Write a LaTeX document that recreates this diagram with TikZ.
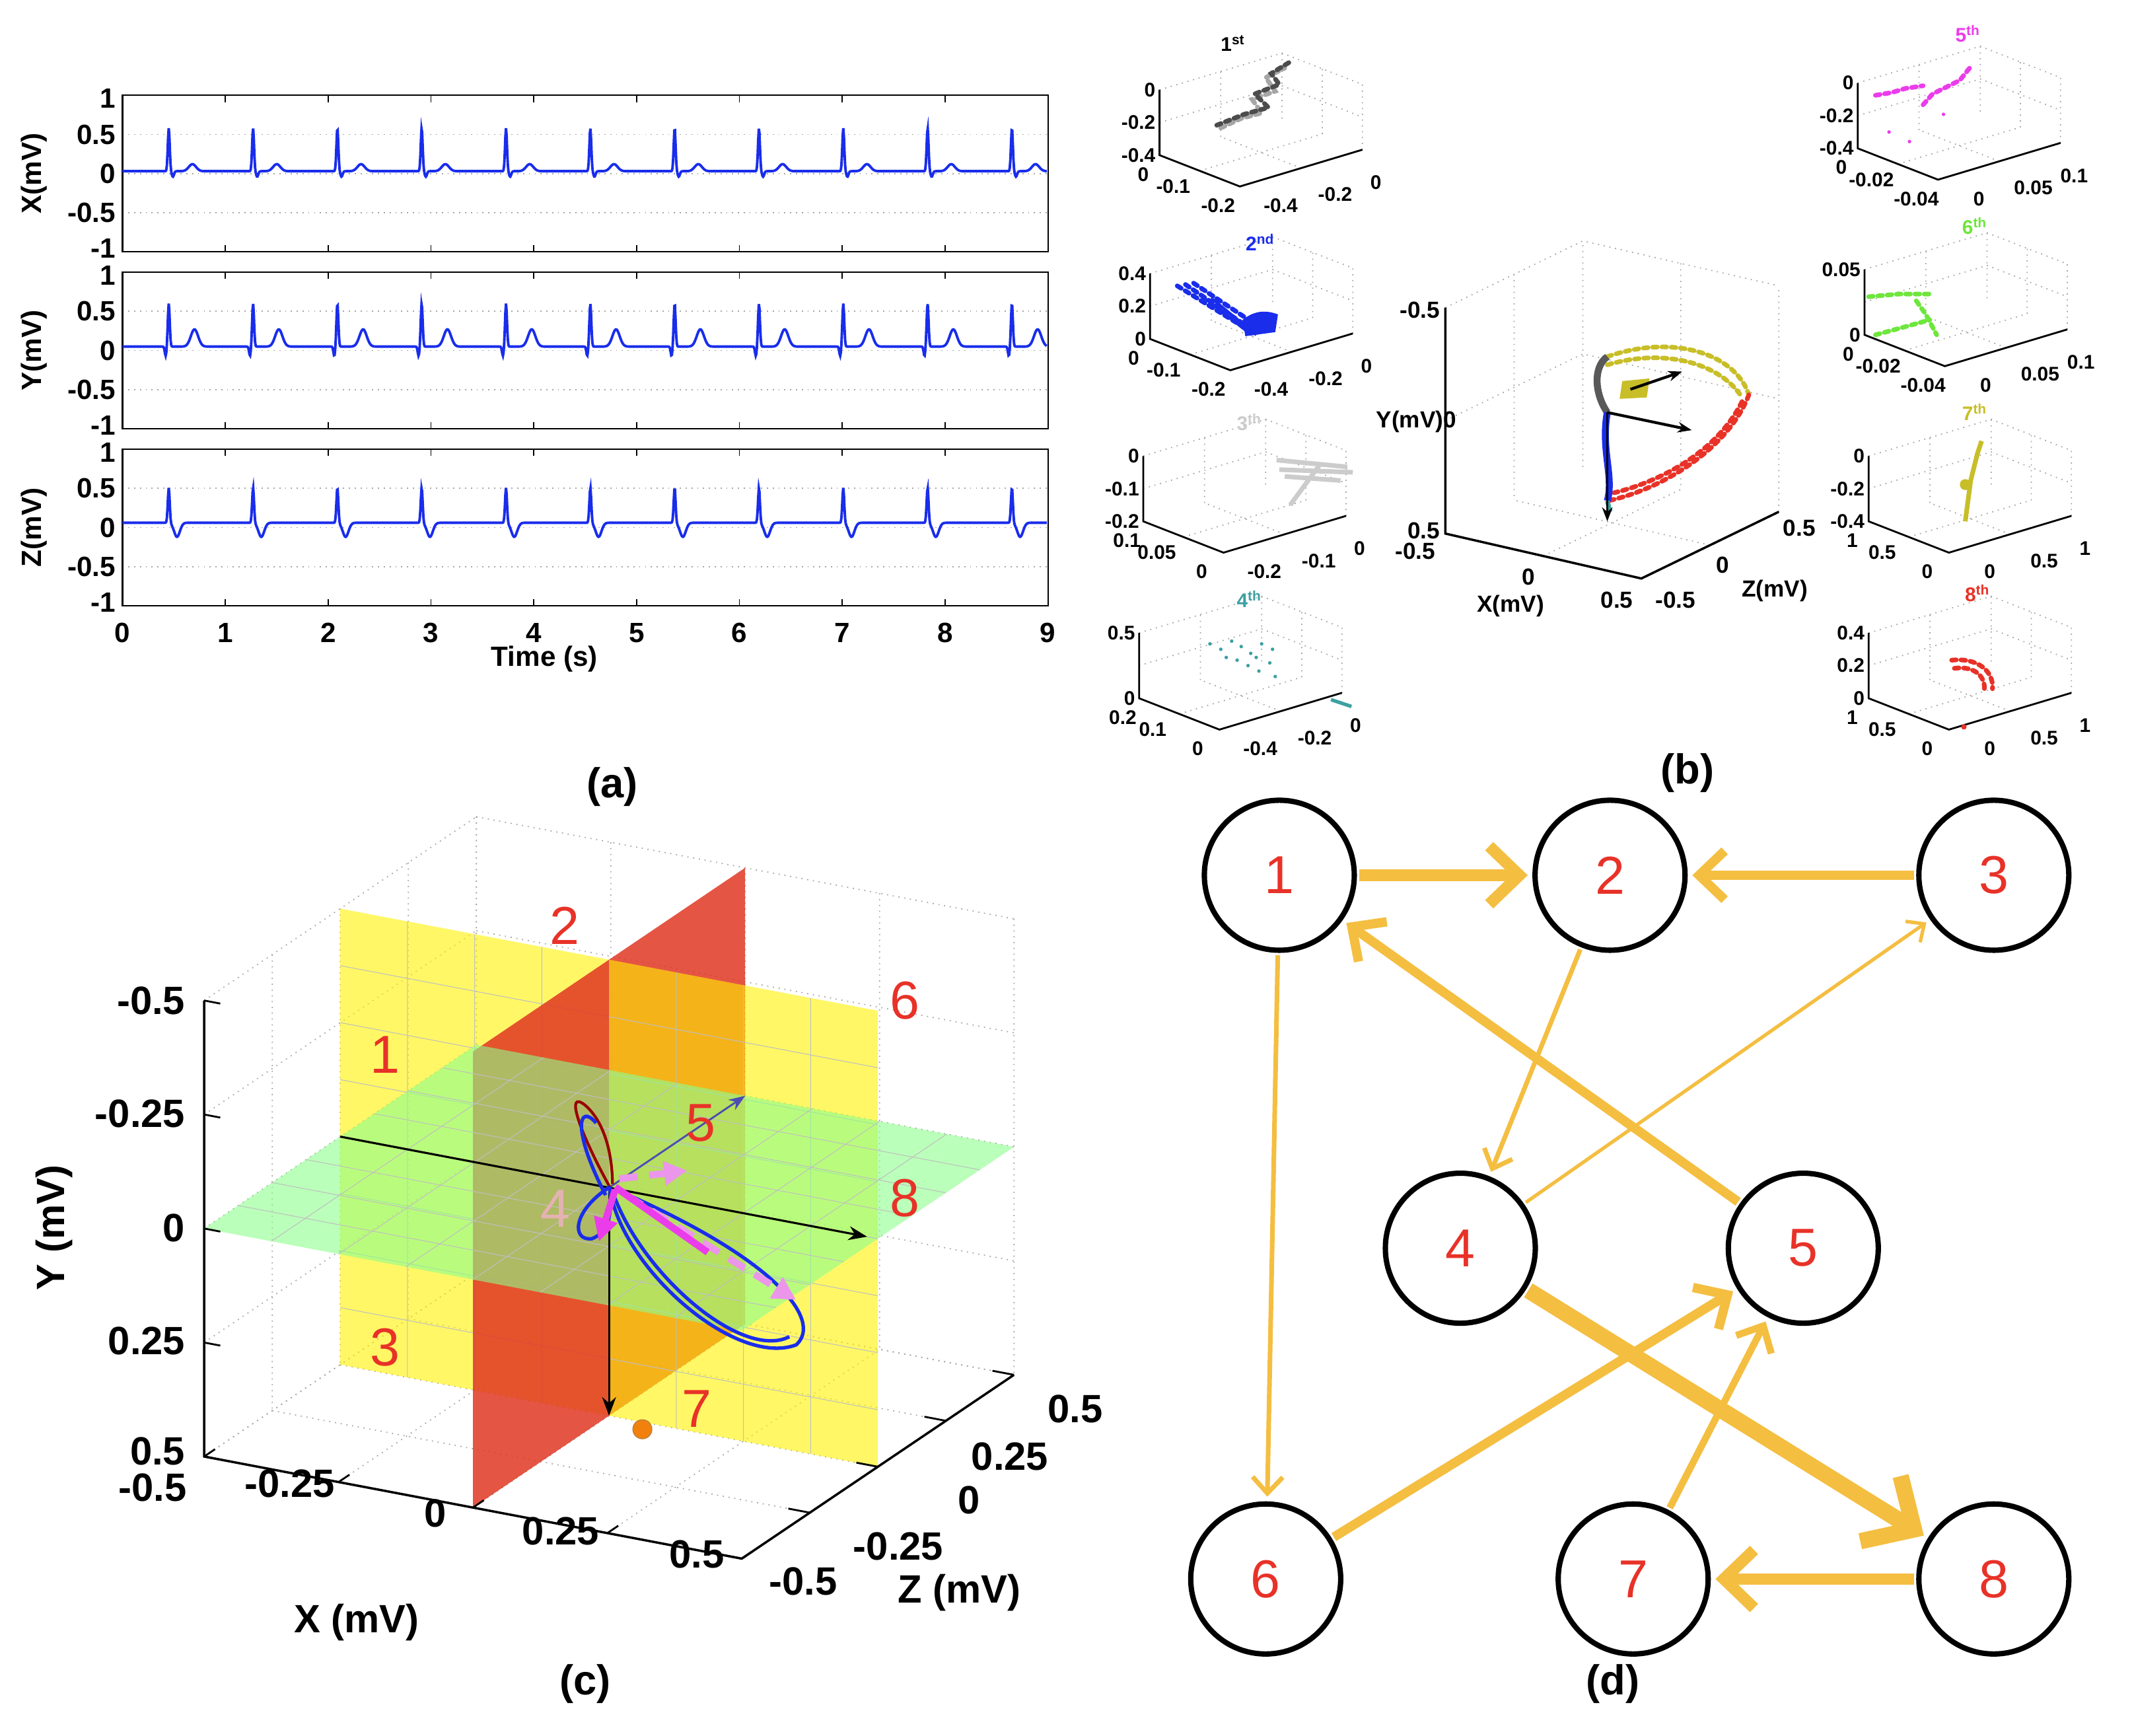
\documentclass[tikz,border=0pt]{standalone}
\usepackage{fontspec}
\setmainfont{Liberation Sans}
\usetikzlibrary{arrows.meta}
\definecolor{ecgblue}{RGB}{25,45,235}
\definecolor{edgeor}{RGB}{244,190,65}
\definecolor{numred}{RGB}{232,50,40}
\definecolor{olive2}{RGB}{200,190,40}
\definecolor{teal2}{RGB}{60,160,160}
\definecolor{mag2}{RGB}{235,60,235}
\definecolor{grn2}{RGB}{110,230,60}
\definecolor{pinkd}{RGB}{235,150,235}
\definecolor{plred}{RGB}{225,55,35}
\tikzset{
  tick/.style={font=\fontsize{12}{13}\selectfont\bfseries, inner sep=1pt},
  ctick/.style={font=\fontsize{17}{18}\selectfont\bfseries},
  mtick/.style={font=\fontsize{8.5}{9}\selectfont\bfseries, inner sep=1pt},
  panel/.style={font=\fontsize{18}{20}\selectfont\bfseries},
  grd/.style={gray!70, dotted, line width=0.5pt},
  st/.style={circle, draw=black, line width=2.3pt, minimum size=2.27cm, inner sep=0pt, text=numred, font=\fontsize{23}{24}\selectfont},
  ed/.style={draw=edgeor, line width=#1, -{Straight Barb[length=3pt 2,width=5pt 4]}, shorten <=1pt, shorten >=2pt},
  rn/.style={text=numred, font=\fontsize{23}{24}\selectfont},
  dat/.style={line width=2pt, dotted, line cap=round},
}
\newcommand\minibox[5]{%
 \begin{scope}[shift={(#1,#2)}]
  \draw[grd] (90,-27)--(90,-75) (149,-4)--(149,-52) (0,-48)--(90,-75)--(149,-52)
   (45,-13.5)--(45,-61.5) (119.5,-15.5)--(119.5,-63.5) (0,-24)--(90,-51)--(149,-28)
   (29.5,11.5)--(119.5,-15.5) (104,9.5)--(45,-13.5);
  \draw[black, line width=0.8pt] (0,-48)--(0,0)--(59,23)--(149,-4);
  \node[mtick, anchor=east] at (-1,-48) {#3};
  \node[mtick, anchor=east] at (-1,-24) {#4};
  \node[mtick, anchor=east] at (-1,0) {#5};
 \end{scope}}
\newcommand\minibot[8]{%
 \begin{scope}[shift={(#1,#2)}]
  \node[mtick] at (-12,14) {#3};
  \node[mtick] at (10,23) {#4};
  \node[mtick] at (43,37) {#5};
  \node[mtick] at (89,37) {#6};
  \node[mtick] at (129,29) {#7};
  \node[mtick] at (159,20) {#8};
 \end{scope}}
\begin{document}
\begin{tikzpicture}[x=0.0206cm,y=-0.0206cm,
  declare function={ph(\t)=mod(\t+8.2,0.82);
   rr(\t)=exp(-((ph(\t)-0.45)/0.013)^2);
   ecgx(\t)=0.03+0.55*rr(\t)-0.07*exp(-((ph(\t)-0.49)/0.015)^2)+0.09*exp(-((ph(\t)-0.68)/0.05)^2);
   ecgy(\t)=0.05+0.55*rr(\t)-0.12*exp(-((ph(\t)-0.42)/0.012)^2)+0.22*exp(-((ph(\t)-0.7)/0.05)^2);
   ecgz(\t)=0.06+0.45*rr(\t)-0.18*exp(-((ph(\t)-0.53)/0.04)^2);}]
\useasboundingbox (0,0) rectangle (1568,1275);
% ================= (a)
\foreach \c/\lab in {127.5/X,257.5/Y,387.5/Z}{
  \draw[grd] (90,\c-28.75)--(770,\c-28.75) (90,\c)--(770,\c) (90,\c+28.75)--(770,\c+28.75);
  \draw[line width=0.6pt] (90,\c-57.5) rectangle (770,\c+57.5);
  \foreach \s in {1,...,8}{\draw[line width=0.5pt] (90+75.55*\s,\c+57.5)--++(0,-5) (90+75.55*\s,\c-57.5)--++(0,5);}
  \node[tick,anchor=east] at (87,\c-55) {1};
  \node[tick,anchor=east] at (87,\c-28.75) {0.5};
  \node[tick,anchor=east] at (87,\c) {0};
  \node[tick,anchor=east] at (87,\c+28.75) {-0.5};
  \node[tick,anchor=east] at (87,\c+55) {-1};
  \node[tick,rotate=90] at (25,\c) {\lab(mV)};
}
\draw[ecgblue,line width=1.1pt] plot[domain=0:8.99,samples=1500] ({90+75.55*\x},{127.5-57.5*ecgx(\x)});
\draw[ecgblue,line width=1.1pt] plot[domain=0:8.99,samples=1500] ({90+75.55*\x},{257.5-57.5*ecgy(\x)});
\draw[ecgblue,line width=1.1pt] plot[domain=0:8.99,samples=1500] ({90+75.55*\x},{387.5-57.5*ecgz(\x)});
\foreach \s in {0,...,9}{\node[tick] at (90+75.55*\s,465) {\s};}
\node[tick] at (400,484) {Time (s)};
\node[panel] (la) at (450,578) {(a)};
% ================= (b) minis
\minibox{852}{114}{0}{-0.2}{-0.4}\minibot{852}{114}{0}{-0.1}{-0.2}{-0.4}{-0.2}{0}
\node[mtick] at (906,32) {1\textsuperscript{st}};
\begin{scope}[shift={(852,114)}]
\draw[gray!70,dat] (45,-20)--(60,-27)--(75,-31)--(68,-41)--(85,-47)--(78,-57)--(92,-64);
\draw[gray!60!black,dat] (42,-22)--(62,-30)--(80,-35)--(70,-45)--(88,-52)--(82,-60)--(95,-68);
\end{scope}
\minibox{845}{249}{0.4}{0.2}{0}\minibot{845}{249}{0}{-0.1}{-0.2}{-0.4}{-0.2}{0}
\node[mtick,text=ecgblue] at (926,178) {2\textsuperscript{nd}};
\begin{scope}[shift={(845,249)}]
\draw[ecgblue,dat] (20,-39)--(70,-8) (26,-40)--(76,-6) (32,-41)--(80,-9);
\draw[ecgblue,line width=1.2pt] (40,-30)--(72,-5) (45,-30)--(78,-3);
\fill[ecgblue] (68,-14) to[bend left] (94,-18)--(92,-5)--(70,-2)--cycle;
\end{scope}
\minibox{840}{383}{0}{-0.1}{-0.2}\minibot{840}{383}{0.1}{0.05}{0}{-0.2}{-0.1}{0}
\node[mtick,text=gray!40] at (918,310) {3\textsuperscript{th}};
\begin{scope}[shift={(840,383)}]
\draw[gray!40,line width=2pt] (98,-45)--(150,-40) (100,-38)--(154,-36) (104,-33)--(145,-30) (108,-12)--(130,-42);
\end{scope}
\minibox{837}{513}{0.5}{}{0}\minibot{837}{513}{0.2}{0.1}{0}{-0.4}{-0.2}{0}
\node[mtick,text=teal2] at (918,440) {4\textsuperscript{th}};
\begin{scope}[shift={(837,513)}]
\foreach \p in {(52,-40),(60,-36),(68,-42),(75,-38),(82,-33),(90,-40),(98,-36),(72,-28),(80,-24),(88,-20),(96,-26),(64,-30),(100,-16),(86,-30)}{\fill[teal2] \p circle (1.3);}
\draw[teal2,line width=1.5pt] (141,1)--(156,6);
\end{scope}
\minibox{1365}{109}{0}{-0.2}{-0.4}\minibot{1365}{109}{0}{-0.02}{-0.04}{0}{0.05}{0.1}
\node[mtick,text=mag2] at (1446,25) {5\textsuperscript{th}};
\begin{scope}[shift={(1365,109)}]
\draw[mag2,dat] (13,-39)--(25,-41)--(35,-44)--(48,-46);
\draw[mag2,dat] (48,-32)--(55,-40)--(65,-45)--(75,-50)--(83,-60);
\foreach \p in {(23,-12),(38,-5),(63,-25)}{\fill[mag2] \p circle (1.3);}
\end{scope}
\minibox{1370}{246}{0.05}{}{0}\minibot{1370}{246}{0}{-0.02}{-0.04}{0}{0.05}{0.1}
\node[mtick,text=grn2] at (1451,166) {6\textsuperscript{th}};
\begin{scope}[shift={(1370,246)}]
\draw[grn2,dat] (3,-28)--(25,-30)--(48,-30) (38,-25)--(45,-15)--(53,0) (8,0)--(30,-6)--(48,-11);
\end{scope}
\minibox{1373}{383}{0}{-0.2}{-0.4}\minibot{1373}{383}{1}{0.5}{0}{0}{0.5}{1}
\node[mtick,text=olive2] at (1451,303) {7\textsuperscript{th}};
\begin{scope}[shift={(1373,383)}]
\draw[olive2,line width=2pt] (71,0)--(75,-30)--(80,-50)--(83,-59);
\fill[olive2] (71,-27) circle (4);
\end{scope}
\minibox{1373}{513}{0.4}{0.2}{0}\minibot{1373}{513}{1}{0.5}{0}{0}{0.5}{1}
\node[mtick,text=numred] at (1453,436) {8\textsuperscript{th}};
\begin{scope}[shift={(1373,513)}]
\draw[numred,dat] (61,-28) .. controls (80,-30) and (92,-20) .. (91,-7);
\draw[numred,dat] (63,-22) .. controls (78,-24) and (86,-16) .. (85,-6);
\fill[numred] (70,21) circle (2);
\end{scope}
% ================= (b) main
\draw[grd] (1163,343)--(1163,177) (1307,376)--(1307,210) (1062,226)--(1163,177)--(1307,210)
  (1112.5,201.5)--(1112.5,367.5) (1235,193.5)--(1235,359.5) (1062,309)--(1163,260)--(1307,293)
  (1134,408.5)--(1235,359.5) (1256.5,400.5)--(1112.5,367.5);
\draw[line width=1pt] (1062,226)--(1062,392)--(1206,425)--(1307,376);
\tikzset{btk/.style={mtick,font=\fontsize{10}{11}\selectfont\bfseries}}
\node[btk,anchor=east] at (1060,228) {-0.5};
\node[btk,anchor=east] at (1072,310) {Y(mV)0};
\node[btk,anchor=east] at (1060,390) {0.5};
\node[btk] at (1040,405) {-0.5};
\node[btk] at (1123,424) {0};
\node[btk] at (1110,445) {X(mV)};
\node[btk] at (1188,441) {0.5};
\node[btk] at (1231,441) {-0.5};
\node[btk] at (1266,415) {0};
\node[btk] at (1322,388) {0.5};
\node[btk] at (1304,434) {Z(mV)};
\draw[olive2,dat] (1181,262) .. controls (1230,245) and (1275,260) .. (1285,290);
\draw[olive2,dat] (1181,268) .. controls (1225,255) and (1265,268) .. (1280,292);
\draw[numred,dat] (1285,290) .. controls (1270,330) and (1220,360) .. (1181,368);
\draw[numred,dat] (1280,295) .. controls (1260,335) and (1215,355) .. (1186,362);
\draw[gray!70!black,line width=3pt] (1181,262) .. controls (1170,270) and (1172,290) .. (1181,303);
\draw[ecgblue,line width=3pt] (1181,303) .. controls (1176,330) and (1186,350) .. (1181,368);
\draw[teal2,line width=2pt] (1181,368)--(1183,376);
\fill[olive2] (1192,280) -- (1212,278) -- (1210,292) -- (1190,293) -- cycle;
\coordinate (bc) at (1181,303);
\coordinate (b0) at (1198,286);
\coordinate (b1) at (1236,273);
\coordinate (b2) at (1243,316);
\coordinate (b3) at (1181,383);
\draw[line width=1.2pt,-{Stealth[length=6pt]}] (b0)--(b1);
\draw[line width=1.2pt,-{Stealth[length=6pt]}] (bc)--(b2);
\draw[line width=1pt,-{Stealth[length=6pt]}] (bc)--(b3);
\node[panel] (lb) at (1240,568) {(b)};
% ================= (c)
\begin{scope}[shift={(9.2185cm,-17.9735cm)}, x={(8.137cm,-1.545cm)}, y={(0cm,-6.901cm)}, z={(4.12cm,2.781cm)}]
 \foreach \v in {-0.5,-0.25,0,0.25,0.5}{
  \draw[grd] (\v,-0.5,0.5)--(\v,0.5,0.5) (-0.5,\v,0.5)--(0.5,\v,0.5);
  \draw[grd] (-0.5,-0.5,\v)--(-0.5,0.5,\v) (-0.5,\v,-0.5)--(-0.5,\v,0.5);
  \draw[grd] (\v,0.5,-0.5)--(\v,0.5,0.5) (-0.5,0.5,\v)--(0.5,0.5,\v);
 }
 \fill[plred,opacity=0.85] (0,-0.5,0)--(0,-0.5,0.5)--(0,0.5,0.5)--(0,0.5,0)--cycle;
 \fill[yellow,opacity=0.6] (-0.5,-0.5,0)--(0.5,-0.5,0)--(0.5,0.5,0)--(-0.5,0.5,0)--cycle;
 \foreach \v in {-0.375,-0.25,...,0.4}{\draw[gray!50,line width=0.3pt] (\v,-0.5,0)--(\v,0.5,0) (-0.5,\v,0)--(0.5,\v,0);}
 \fill[plred,opacity=0.85] (0,-0.5,-0.5)--(0,-0.5,0)--(0,0.5,0)--(0,0.5,-0.5)--cycle;
 \fill[green!45,opacity=0.6] (-0.5,0,-0.5)--(0.5,0,-0.5)--(0.5,0,0.5)--(-0.5,0,0.5)--cycle;
 \foreach \v in {-0.375,-0.25,...,0.4}{\draw[gray!50,line width=0.3pt] (\v,0,-0.5)--(\v,0,0.5) (-0.5,0,\v)--(0.5,0,\v);}
 \draw[line width=1pt] (-0.5,-0.5,-0.5)--(-0.5,0.5,-0.5)--(0.5,0.5,-0.5)--(0.5,0.5,0.5);
 \foreach \v in {-0.5,-0.25,0,0.25,0.5}{\draw[line width=0.8pt] (-0.5,\v,-0.5)--++(0.03,0,0) (\v,0.5,-0.5)--++(0,0,0.04) (0.5,0.5,\v)--++(-0.04,0,0);}
 \coordinate (co) at (0,0,0);
 \coordinate (cx0) at (-0.5,0,0);
 \coordinate (cx) at (0.48,0,0);
 \coordinate (cy) at (0,0.5,0);
 \coordinate (cz) at (0,0,0.5);
\end{scope}
\draw[line width=0.9pt] (cx0)--(co);
\draw[line width=0.9pt,-{Stealth[length=8pt]}] (co)--(cx);
\draw[line width=0.9pt,-{Stealth[length=8pt]}] (co)--(cy);
\draw[blue!40!gray,line width=0.8pt,-{Stealth[length=7pt]}] (co)--(cz);
\draw[red!60!black,line width=1.2pt] (448,872) .. controls (425,830) and (415,800) .. (430,812) .. controls (445,825) and (450,850) .. (450,870);
\draw[ecgblue,line width=1.5pt] (448,872) .. controls (455,930) and (540,1005) .. (585,988) .. controls (605,970) and (570,925) .. (455,875);
\draw[ecgblue,line width=1.5pt] (450,875) .. controls (470,935) and (545,1000) .. (580,982);
\draw[ecgblue,line width=1.5pt] (448,872) .. controls (420,890) and (420,912) .. (435,910) .. controls (448,905) and (450,890) .. (448,872);
\draw[ecgblue,line width=1.5pt] (445,878) .. controls (420,830) and (425,810) .. (438,825);
\draw[pinkd,line width=3pt,dash pattern=on 8pt off 5pt,-{Triangle[length=10pt,width=10pt]}] (455,866)--(505,860);
\draw[pinkd,line width=3pt,dash pattern=on 8pt off 5pt,-{Triangle[length=10pt,width=10pt]}] (460,878)--(585,955);
\draw[mag2,line width=3pt] (452,872)--(520,920);
\draw[mag2,line width=3pt,-{Triangle[length=10pt,width=10pt]}] (452,874)--(440,912);
\fill[orange!80!brown,draw=brown] (472,1050) circle (7);
\node[rn] at (283,775) {1};
\node[rn] at (415,680) {2};
\node[rn] at (283,990) {3};
\node[rn,text=pink!80!gray] at (408,888) {4};
\node[rn] at (515,825) {5};
\node[rn] at (665,735) {6};
\node[rn] at (512,1035) {7};
\node[rn] at (665,880) {8};
\foreach \l/\yy in {-0.5/735,-0.25/818,0/902,0.25/985,0.5/1066}{\node[ctick,anchor=east] at (142,\yy) {\l};}
\node[ctick] at (112,1093) {-0.5};
\node[ctick] at (213,1090) {-0.25};
\node[ctick] at (320,1112) {0};
\node[ctick] at (412,1125) {0.25};
\node[ctick] at (512,1142) {0.5};
\node[ctick] at (590,1162) {-0.5};
\node[ctick] at (660,1136) {-0.25};
\node[ctick] at (712,1102) {0};
\node[ctick] at (742,1070) {0.25};
\node[ctick] at (790,1035) {0.5};
\node[ctick,rotate=90] at (40,902) {Y (mV)};
\node[ctick] at (262,1192) {X (mV)};
\node[ctick] at (705,1170) {Z (mV)};
\node[panel] (lc) at (430,1237) {(c)};
% ================= (d)
\node[st] (n1) at (940,643) {1};
\node[st] (n2) at (1183,643) {2};
\node[st] (n3) at (1465,643) {3};
\node[st] (n4) at (1073,917) {4};
\node[st] (n5) at (1325,917) {5};
\node[st] (n6) at (930,1160) {6};
\node[st] (n7) at (1200,1160) {7};
\node[st] (n8) at (1465,1160) {8};
\draw[ed=5pt] (n1)--(n2);
\draw[ed=4pt] (n3)--(n2);
\draw[ed=2pt] (n2)--(n4);
\draw[ed=1.5pt] (n4)--(n3);
\draw[ed=4pt] (n5)--(n1);
\draw[ed=2pt] (n1)--(n6);
\draw[ed=4pt] (n6)--(n5);
\draw[ed=3pt] (n7)--(n5);
\draw[ed=7pt] (n4)--(n8);
\draw[ed=5pt] (n8)--(n7);
\node[panel] (ld) at (1185,1237) {(d)};
\end{tikzpicture}
\end{document}
